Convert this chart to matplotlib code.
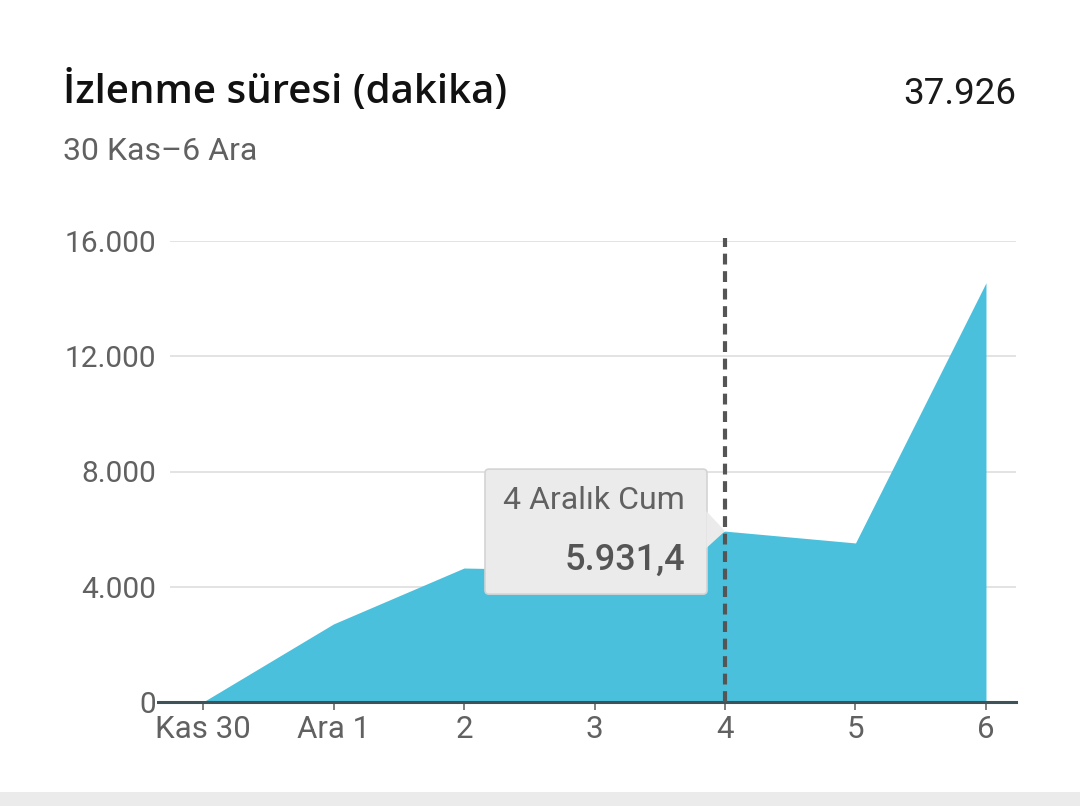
import numpy as np
import matplotlib.pyplot as plt
from matplotlib.patches import FancyBboxPatch, Polygon

# Watch time per day (minutes)
days = ['Kas 30', 'Ara 1', '2', '3', '4', '5', '6']
minutes = [0, 2710, 4650, 4565, 5931.4, 5520, 14550]
y_ticks = [0, 4000, 8000, 12000, 16000]
y_tick_labels = ['0', '4.000', '8.000', '12.000', '16.000']
total_label = '37.926'
title = 'İzlenme süresi (dakika)'
subtitle = '30 Kas–6 Ara'
tip_day = 4
tip_title = '4 Aralık Cum'
tip_value = '5.931,4'

plt.rcParams['font.family'] = ['Roboto', 'DejaVu Sans']

fig = plt.figure(figsize=(10.8, 8.06), dpi=100)
fig.patch.set_facecolor('white')

ax = fig.add_axes([158 / 1080, 104 / 806, 858 / 1080, 461 / 806])
x = np.arange(len(days))
ax.fill_between(x, minutes, 0, color='#4bc0dc', linewidth=0, zorder=2)

ax.set_xlim(-0.345, len(days) - 1 + 0.23)
ax.set_ylim(0, 16000)
ax.set_yticks(y_ticks)
ax.set_yticklabels(y_tick_labels)
ax.set_xticks(x)
ax.set_xticklabels(days)
# grid lines start a bit right of the axis line
for yt in y_ticks[1:]:
    ax.axhline(yt, xmin=13 / 858, xmax=1, color='#e0e0e0', linewidth=1.3, zorder=0)

for s in ['top', 'right', 'left']:
    ax.spines[s].set_visible(False)
ax.spines['bottom'].set_color('#3d5259')
ax.spines['bottom'].set_linewidth(2.2)
ax.spines['bottom'].set_zorder(4)
ax.tick_params(axis='y', length=0, pad=1, labelsize=21.5, labelcolor='#616161')
ax.tick_params(axis='x', length=6, width=1.3, color='#757575', pad=3,
               labelsize=22.5, labelcolor='#616161')

# hover line
ax.plot([tip_day, tip_day], [0, 16100], color='#555555', linewidth=3,
        linestyle=(0, (2.6, 1.6)), zorder=5, clip_on=False)

# tooltip
tip_y = minutes[tip_day]
px_x = 130.5  # pixels per day
px_y = 461 / 16000  # pixels per minute
bx0 = tip_day - 240 / px_x
bx1 = tip_day - 18 / px_x
by0 = tip_y - 63 / px_y
by1 = tip_y + 62 / px_y
box = FancyBboxPatch((bx0, by0), bx1 - bx0, by1 - by0,
                     boxstyle='round,pad=0,rounding_size=0.03',
                     mutation_aspect=px_x / px_y,
                     facecolor='#ebebeb', edgecolor='#d4d4d4', linewidth=1.2,
                     zorder=6)
ax.add_patch(box)
pointer = Polygon([(bx1 - 0.005, tip_y + 20 / px_y), (tip_day, tip_y),
                   (bx1 - 0.005, tip_y - 17 / px_y)],
                  closed=True, facecolor='#ebebeb', edgecolor='none', zorder=7)
ax.add_patch(pointer)
ax.text(bx1 - 22 / px_x, tip_y + 31 / px_y, tip_title, ha='right', va='center',
        fontsize=23, color='#616161', zorder=8)
ax.text(bx1 - 22 / px_x, tip_y - 29 / px_y, tip_value, ha='right', va='center',
        fontsize=26, color='#555555', fontweight='medium', zorder=8)

# header
fig.text(63 / 1080, 1 - 92 / 806, title, ha='left', va='center',
         fontsize=29, color='#111111', family=['Open Sans', 'DejaVu Sans'],
         fontweight='semibold')
fig.text(1016 / 1080, 1 - 94 / 806, total_label, ha='right', va='center',
         fontsize=26.5, color='#1a1a1a')
fig.text(63 / 1080, 1 - 152 / 806, subtitle, ha='left', va='center',
         fontsize=23, color='#616161')

# grey band at the bottom
fig.patches.append(plt.Rectangle((0, 0), 1, 14 / 806, transform=fig.transFigure,
                                 facecolor='#ebebeb', edgecolor='none'))

fig.savefig('out.png', dpi=100)
